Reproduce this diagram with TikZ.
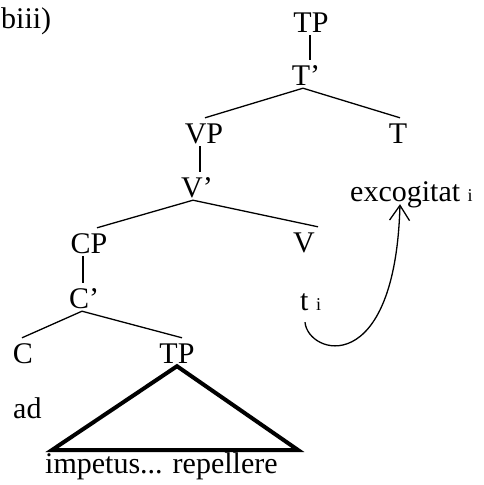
\documentclass[tikz,border=0pt]{standalone}
\usepackage{fontspec}
\setmainfont{Liberation Serif}
\usetikzlibrary{arrows.meta}

\tikzset{
	cat/.style={inner sep=0pt, anchor=base, text height=25pt, text depth=3pt},
	branch/.style={line width=1.3pt},
	roof/.style={line width=4pt},
}
\newcommand{\idx}[1]{{\fontsize{18}{18}\selectfont #1}}

\begin{document}
\begin{tikzpicture}[x=1pt, y=-1pt, font=\fontsize{30}{36}\selectfont]
	\useasboundingbox (0,0) rectangle (483,485);
	\node [inner sep=0pt, anchor=base west] (ex) at (1,28) {biii)};
	\node [cat] (tp) at (311,32) {TP};
	\node [cat] (tbar) at (306,85) {T'};
	\node [cat] (vp) at (204,143) {VP};
	\node [cat] (t) at (398,143) {T};
	\node [cat] (vbar) at (197,197) {V'};
	\node [cat] (v) at (304,252) {V};
	\node [cat] (cp) at (89,253) {CP};
	\node [cat] (cbar) at (84,308) {C'};
	\node [cat] (c) at (23,363) {C};
	\node [cat] (tp2) at (177,363) {TP};
	\node [inner sep=0pt, anchor=base west] (ad) at (13,418) {ad};
	\node [inner sep=0pt, anchor=base west, text depth=3pt] (verb) at (350,201) {excogitat \idx{i}};
	\node [inner sep=0pt, anchor=base west, text depth=3pt] (trace) at (300,310) {t \idx{i}};
	\node [inner sep=0pt, anchor=base west] (inner) at (45,473) {impetus... repellere};
	\coordinate (roofl) at (52,450);
	\coordinate (roofr) at (298,450);

	\draw [branch] ([xshift=-1pt]tp.south) -- ([xshift=4pt]tbar.north);
	\draw [branch] ([xshift=-3pt]tbar.south) -- ([xshift=1pt]vp.north);
	\draw [branch] ([xshift=-3pt]tbar.south) -- ([xshift=2pt]t.north);
	\draw [branch] ([xshift=-4pt]vp.south) -- ([xshift=3pt]vbar.north);
	\draw [branch] ([xshift=-4pt]vbar.south) -- ([xshift=8pt]cp.north);
	\draw [branch] ([xshift=-4pt]vbar.south) -- ([xshift=14pt]v.north);
	\draw [branch] ([xshift=-6pt]cp.south) -- ([xshift=-1pt]cbar.north);
	\draw [branch] ([xshift=-2pt]cbar.south) -- ([xshift=-1pt]c.north);
	\draw [branch] ([xshift=-2pt]cbar.south) -- ([xshift=5pt]tp2.north);
	\draw [roof] (tp2.south) -- (roofl) -- (roofr) -- cycle;

	\draw [branch, -{Straight Barb[length=15pt, width=20pt]}]
		([xshift=5pt, yshift=-9pt]trace.south west)
		.. controls +(3,33) and +(-5,176) .. ([xshift=50pt]verb.south west);
\end{tikzpicture}
\end{document}
